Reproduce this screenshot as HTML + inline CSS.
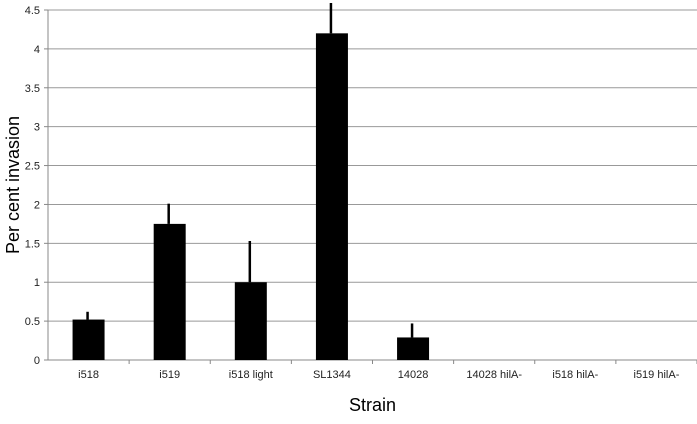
<!DOCTYPE html>
<html><head><meta charset="utf-8"><style>
body{margin:0;background:#fff;}
svg{display:block;font-family:"Liberation Sans",sans-serif;}
</style></head><body>
<svg id="chart" width="697" height="424"></svg>
<script>
const categories=["i518","i519","i518 light","SL1344","14028","14028 hilA-","i518 hilA-","i519 hilA-"];
const values=[0.52,1.75,1.0,4.2,0.29,0,0,0];
const errors=[0.1,0.26,0.53,0.39,0.18,0,0,0];
const yTicks=[0,0.5,1,1.5,2,2.5,3,3.5,4,4.5];
const tickLabels=["0","0.5","1","1.5","2","2.5","3","3.5","4","4.5"];
const NS="http://www.w3.org/2000/svg";
const svg=document.getElementById('chart');
const L=48,R=697,T=10,B=360,maxV=4.5;
const y=v=>B-(v/maxV)*(B-T);
const bw=(R-L)/categories.length;
const x=i=>L+bw*(i+0.5);
function mk(t,a,p){const e=document.createElementNS(NS,t);for(const k in a)e.setAttribute(k,a[k]);(p||svg).appendChild(e);return e;}
yTicks.forEach((v,i)=>{
 const g=mk('line',{x1:L,x2:R,y1:y(v),y2:y(v),stroke:v===0?'#888':'#999','stroke-width':1});
 
 
 const tk=mk('line',{x1:L-4,x2:L,y1:y(v),y2:y(v),stroke:'#888'});
 
 
 const t=mk('text',{x:L-8,y:y(v)+4,'text-anchor':'end','font-size':11,fill:'#222'});
 t.textContent=tickLabels[i];
 
 
});
const ax=mk('line',{x1:L,x2:L,y1:T,y2:B,stroke:'#888'});


categories.forEach((c,i)=>{
 const tx=L+bw*(i+1);
 const tk=mk('line',{x1:tx,x2:tx,y1:B,y2:B+4,stroke:'#888'});
 
 
 const b=mk('rect',{x:x(i)-16,y:y(values[i]),width:32,height:B-y(values[i]),fill:'#000'});
 
 
 if(errors[i]>0){
  const e=mk('line',{x1:x(i)-1,x2:x(i)-1,y1:y(values[i]),y2:y(values[i]+errors[i]),stroke:'#000','stroke-width':2.5});
  
  
 }
 const t=mk('text',{x:x(i),y:B+18,'text-anchor':'middle','font-size':11,fill:'#222'});
 t.textContent=c;
 
 
});
const xt=mk('text',{x:(L+R)/2,y:411,'text-anchor':'middle','font-size':18,fill:'#000'});
xt.textContent='Strain';


const yt=mk('text',{x:0,y:0,'text-anchor':'middle','font-size':18,fill:'#000',transform:'translate(19,185) rotate(-90)'});
yt.textContent='Per cent invasion';


</script>
</body></html>
